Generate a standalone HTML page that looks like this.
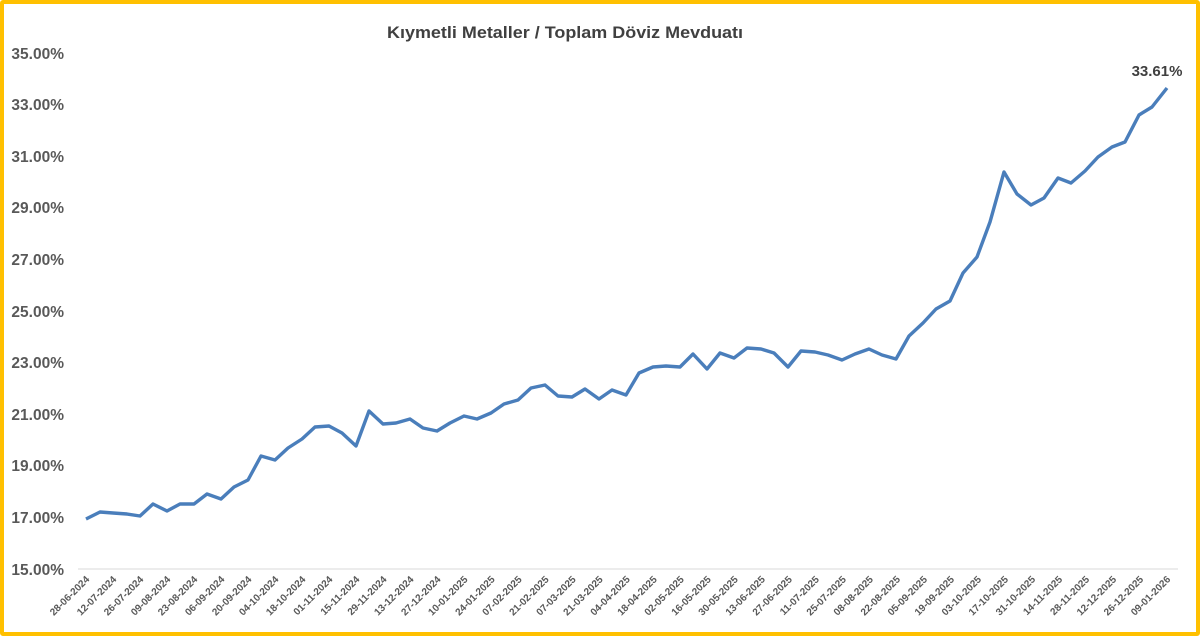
<!DOCTYPE html>
<html><head><meta charset="utf-8"><style>
html,body{margin:0;padding:0;background:#fff;}
#wrap{position:absolute;left:0;top:0;width:1200px;height:636px;box-sizing:border-box;border:4px solid #FFC000;border-radius:3px;background:#fff;}
svg{position:absolute;left:0;top:0;}
text{font-family:"Liberation Sans",sans-serif;font-weight:bold;fill:#595959;}
</style></head><body>
<div id="wrap"></div>
<svg width="1200" height="636" viewBox="0 0 1200 636">
<text x="565" y="38" text-anchor="middle" font-size="17" textLength="356" lengthAdjust="spacingAndGlyphs" style="fill:#404040">Kıymetli Metaller / Toplam Döviz Mevduatı</text>
<g font-size="15.5" text-anchor="end">
<text x="64" y="59">35.00%</text>
<text x="64" y="110">33.00%</text>
<text x="64" y="162">31.00%</text>
<text x="64" y="213">29.00%</text>
<text x="64" y="265">27.00%</text>
<text x="64" y="317">25.00%</text>
<text x="64" y="368">23.00%</text>
<text x="64" y="420">21.00%</text>
<text x="64" y="471">19.00%</text>
<text x="64" y="523">17.00%</text>
<text x="64" y="575">15.00%</text>
</g>
<line x1="78" y1="569" x2="1178" y2="569" stroke="#d9d9d9" stroke-width="1"/>
<polyline fill="none" stroke="#4A7EBB" stroke-width="3.4" stroke-linejoin="round" points="86,519 100,512 113,513 127,514 140,516 153,504 167,511 180,504 194,504 207,494 221,499 234,487 248,480 261,456 275,460 288,448 302,439 315,427 329,426 342,433 356,446 369,411 383,424 396,423 410,419 423,428 437,431 450,423 464,416 477,419 491,413 504,404 518,400 531,388 545,385 558,396 572,397 585,389 599,399 612,390 626,395 639,373 653,367 666,366 680,367 693,354 707,369 720,353 734,358 747,348 761,349 774,353 788,367 801,351 815,352 828,355 842,360 855,354 869,349 882,355 896,359 909,336 923,323 936,309 950,301 963,273 977,257 990,222 1004,172 1017,194 1031,205 1044,198 1058,178 1071,183 1085,171 1098,157 1112,147 1125,142 1139,115 1152,107 1167,88"/>
<text x="1157" y="76" text-anchor="middle" font-size="15" style="fill:#404040">33.61%</text>
<g font-size="10" text-anchor="end" id="xl"></g>
</svg>
<script>
var labels=["28-06-2024","12-07-2024","26-07-2024","09-08-2024","23-08-2024","06-09-2024","20-09-2024","04-10-2024","18-10-2024","01-11-2024","15-11-2024","29-11-2024","13-12-2024","27-12-2024","10-01-2025","24-01-2025","07-02-2025","21-02-2025","07-03-2025","21-03-2025","04-04-2025","18-04-2025","02-05-2025","16-05-2025","30-05-2025","13-06-2025","27-06-2025","11-07-2025","25-07-2025","08-08-2025","22-08-2025","05-09-2025","19-09-2025","03-10-2025","17-10-2025","31-10-2025","14-11-2025","28-11-2025","12-12-2025","26-12-2025","09-01-2026"];
var g=document.getElementById('xl'),ns="http://www.w3.org/2000/svg";
for(var i=0;i<labels.length;i++){var x=86+i*2*(1081/80)+4;var y=580;
var t=document.createElementNS(ns,'text');t.setAttribute('x',x);t.setAttribute('y',y);
t.setAttribute('transform','rotate(-45 '+x+' '+y+')');t.textContent=labels[i];g.appendChild(t);}
</script>
</body></html>
